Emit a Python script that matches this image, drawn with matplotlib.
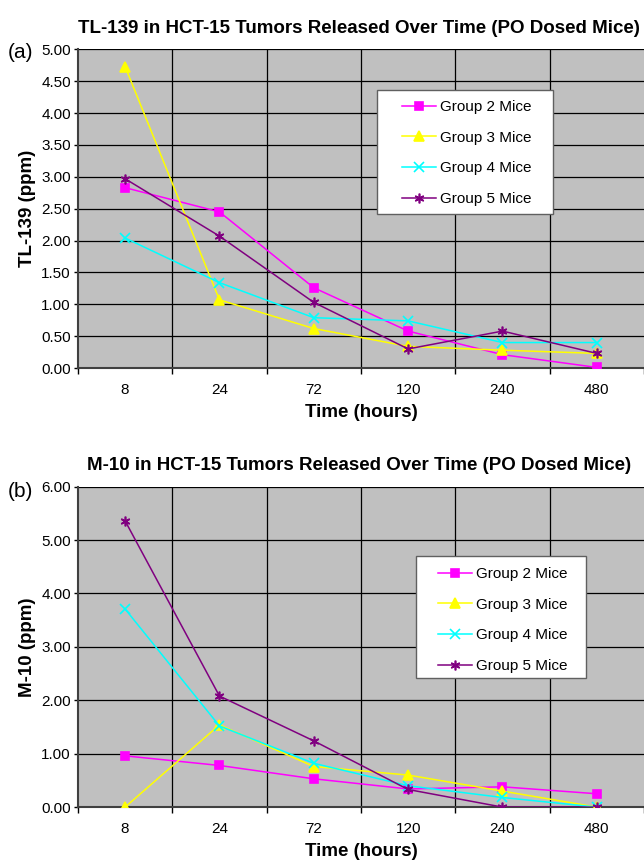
import matplotlib
matplotlib.use("Agg")
import matplotlib.pyplot as plt
from matplotlib.patches import Rectangle
import numpy as np

plt.rcParams['font.family'] = ['Liberation Sans', 'DejaVu Sans']

categories = ["8", "24", "72", "120", "240", "480"]
series_names = ["Group 2 Mice", "Group 3 Mice", "Group 4 Mice", "Group 5 Mice"]

a_group2 = [2.83, 2.45, 1.26, 0.58, 0.21, 0.01]
a_group3 = [4.73, 1.07, 0.62, 0.34, 0.28, 0.23]
a_group4 = [2.04, 1.34, 0.79, 0.74, 0.40, 0.40]
a_group5 = [2.97, 2.07, 1.03, 0.30, 0.58, 0.23]

b_group2 = [0.96, 0.78, 0.53, 0.34, 0.38, 0.25]
b_group3 = [0.00, 1.54, 0.76, 0.60, 0.30, 0.00]
b_group4 = [3.71, 1.52, 0.82, 0.40, 0.18, 0.00]
b_group5 = [5.36, 2.08, 1.24, 0.33, 0.00, 0.00]

a_yticks = [0, 0.5, 1, 1.5, 2, 2.5, 3, 3.5, 4, 4.5, 5]
b_yticks = [0, 1, 2, 3, 4, 5, 6]

colors = ["#FF00FF", "#FFFF00", "#00FFFF", "#800080"]
markers = ["s", "^", "x", (6, 2, 0)]
msizes = [5.5, 6.5, 6.5, 7]

W, H = 644, 866
fig = plt.figure(figsize=(W / 100, H / 100), dpi=100)

def fx(px):
    return px / W

def fy(py):
    return 1 - py / H

def panel(rect, data, yticks, ymax, title, ylabel, tag, tag_y, box, handle_x, row1_y):
    ax = fig.add_axes(rect)
    ax.set_facecolor("#C0C0C0")
    x = np.arange(len(categories))
    for d, c, m, ms, name in zip(data, colors, markers, msizes, series_names):
        ax.plot(x, d, color=c, marker=m, markersize=ms, lw=1.1, label=name,
                markeredgewidth=1.2, markerfacecolor=c, markeredgecolor=c, zorder=3)
    ax.set_xlim(-0.5, len(categories) - 0.5)
    ax.set_ylim(0, ymax)
    ax.set_yticks(yticks)
    ax.set_yticklabels([f"{v:.2f}" for v in yticks])
    ax.set_xticks(x)
    ax.set_xticklabels(categories)
    ax.set_xticks(np.arange(len(categories) + 1) - 0.5, minor=True)
    ax.tick_params(axis='x', which='major', length=0, pad=11, labelsize=11)
    ax.tick_params(axis='x', which='minor', length=4, width=1, direction='out')
    ax.tick_params(axis='y', length=3, width=1, direction='out', labelsize=11, pad=2)
    for v in yticks:
        ax.axhline(v, color='black', lw=0.9, zorder=1)
    for v in np.arange(1, len(categories)) - 0.5:
        ax.axvline(v, color='black', lw=0.9, zorder=1)
    for s in ['top', 'right']:
        ax.spines[s].set_visible(False)
    ax.spines['left'].set_color('#404040')
    ax.spines['bottom'].set_color('#404040')
    ax.spines['left'].set_linewidth(1.5)
    ax.spines['bottom'].set_linewidth(1.5)
    ax.set_xlabel("Time (hours)", fontsize=13.5, fontweight='bold', labelpad=5)
    ax.set_ylabel(ylabel, fontsize=13.5, fontweight='bold', labelpad=4)
    ax.set_title(title, fontsize=13.5, fontweight='bold', pad=12, x=0.497)
    fig.text(fx(8), fy(tag_y), tag, fontsize=15, ha='left', va='center')
    # legend frame
    x0, y0, x1, y1 = box
    ax.add_patch(Rectangle((fx(x0), fy(y1)), fx(x1) - fx(x0), fy(y0) - fy(y1),
                           transform=fig.transFigure, facecolor='white',
                           edgecolor='#606060', lw=1.0, zorder=4, clip_on=False))
    leg = ax.legend(loc='upper left', bbox_to_anchor=(fx(handle_x), fy(row1_y)),
                    bbox_transform=fig.transFigure, frameon=False,
                    fontsize=11, handlelength=2.2, labelspacing=1.09, borderpad=0,
                    handletextpad=0.3, borderaxespad=0)
    leg.set_zorder(5)
    return ax

panel([0.121, 0.575, 0.879, 0.368], [a_group2, a_group3, a_group4, a_group5],
      a_yticks, 5.0, "TL-139 in HCT-15 Tumors Released Over Time (PO Dosed Mice)",
      "TL-139 (ppm)", "(a)", 52, (377, 90, 553, 214), 402, 100)
panel([0.121, 0.068, 0.879, 0.370], [b_group2, b_group3, b_group4, b_group5],
      b_yticks, 6.0, "M-10 in HCT-15 Tumors Released Over Time (PO Dosed Mice)",
      "M-10 (ppm)", "(b)", 491, (416, 556, 586, 678), 438, 567)

fig.savefig("out.png", dpi=100)
